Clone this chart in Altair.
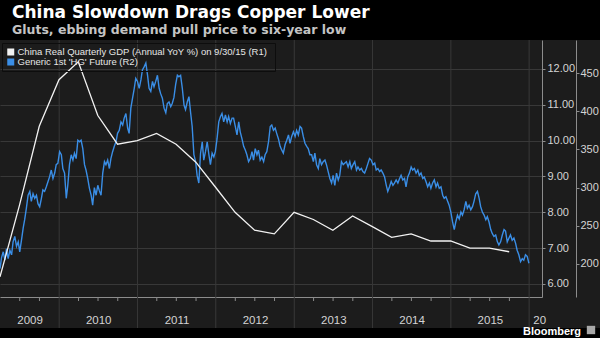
import altair as alt
import pandas as pd

TITLE = "China Slowdown Drags Copper Lower"
SUBTITLE = "Gluts, ebbing demand pull price to six-year low"
GDP_NAME = "China Real Quarterly GDP (Annual YoY %)  on 9/30/15 (R1)"
HG_NAME = "Generic 1st 'HG' Future (R2)"
SOURCE = "Bloomberg"

# China real GDP, YoY %, quarter ends (R1)
gdp_dates = ["2009-03-31", "2009-06-30", "2009-09-30", "2009-12-31",
             "2010-03-31", "2010-06-30", "2010-09-30", "2010-12-31",
             "2011-03-31", "2011-06-30", "2011-09-30", "2011-12-31",
             "2012-03-31", "2012-06-30", "2012-09-30", "2012-12-31",
             "2013-03-31", "2013-06-30", "2013-09-30", "2013-12-31",
             "2014-03-31", "2014-06-30", "2014-09-30", "2014-12-31",
             "2015-03-31", "2015-06-30", "2015-09-30"]
gdp_values = [6.2, 8.2, 10.4, 11.7, 12.2, 10.7, 9.9, 10.0,
              10.2, 9.9, 9.4, 8.7, 8.0, 7.5, 7.4, 8.0,
              7.8, 7.5, 7.9, 7.6, 7.3, 7.4, 7.2, 7.2,
              7.0, 7.0, 6.9]

# Generic 1st HG copper future, US cents/lb (R2), evenly sampled from first to last date
hg_first_date = "2009-03-31"
hg_last_date = "2015-12-31"
hg_seg1 = [194, 208, 216, 205, 220, 207, 218, 212, 229, 236, 223, 229, 216, 231, 247, 258,
           273, 290, 295, 282, 292, 286, 290, 279, 275, 286, 297, 295, 301, 308, 314, 323,
           312, 319, 330, 332, 347, 343, 325, 319, 286, 303, 330, 343, 336, 345, 338]
hg_seg2 = [362, 360, 362, 351, 330, 323, 312, 299, 290, 277, 300, 290, 303, 296, 290, 319,
           334, 330, 336, 325, 338, 347, 354, 360, 371, 375, 386, 382, 391, 397, 378, 371,
           404, 417, 430, 443, 439, 430, 441, 454, 458, 463, 447, 430, 426, 439, 432]
hg_seg3 = [439, 447, 430, 423, 417, 404, 398, 410, 412, 406, 410, 418, 435, 447, 445, 447,
           430, 408, 402, 412, 419, 400, 380, 343, 334, 316, 306, 345, 360, 336, 347, 360,
           343, 330, 345, 340, 347, 364, 386, 393, 397, 386, 395, 386, 393, 384, 391]
hg_seg4 = [391, 380, 369, 386, 373, 364, 354, 349, 343, 334, 338, 347, 336, 351, 343, 349,
           336, 340, 334, 343, 347, 360, 380, 382, 375, 378, 371, 364, 354, 349, 345, 356,
           362, 369, 358, 367, 373, 367, 375, 369, 380, 378, 367, 358, 354, 351, 343]
hg_seg5 = [343, 334, 345, 330, 325, 338, 330, 334, 336, 330, 321, 312, 306, 316, 303, 319,
           310, 316, 334, 330, 332, 334, 327, 334, 325, 330, 334, 323, 327, 323, 325, 321,
           319, 325, 332, 338, 336, 330, 332, 323, 325, 321, 323, 319, 314, 303, 295]
hg_seg6 = [301, 308, 303, 306, 310, 306, 312, 316, 310, 312, 301, 314, 319, 327, 323, 325,
           319, 323, 316, 319, 312, 314, 308, 301, 306, 299, 306, 310, 301, 306, 299, 301,
           290, 286, 288, 282, 277, 268, 255, 245, 255, 264, 259, 268, 264, 271]
hg_seg7 = [282, 273, 277, 271, 275, 282, 292, 295, 286, 275, 268, 264, 258, 262, 255, 245,
           240, 236, 238, 229, 225, 229, 238, 245, 243, 229, 234, 238, 231, 234, 227, 218,
           212, 203, 207, 205, 212, 210, 201]

year_starts = ["2010-01-01", "2011-01-01", "2012-01-01", "2013-01-01",
               "2014-01-01", "2015-01-01", "2016-01-01"]
year_label_dates = ["2009-08-16", "2010-07-02", "2011-07-02", "2012-07-02",
                    "2013-07-02", "2014-07-02", "2015-07-02", "2016-02-17"]
quarter_starts = ["2009-07-01", "2009-10-01", "2010-04-01", "2010-07-01", "2010-10-01",
                  "2011-04-01", "2011-07-01", "2011-10-01", "2012-04-01", "2012-07-01",
                  "2012-10-01", "2013-04-01", "2013-07-01", "2013-10-01", "2014-04-01",
                  "2014-07-01", "2014-10-01", "2015-04-01", "2015-07-01", "2015-10-01"]
r1_ticks = [6, 7, 8, 9, 10, 11, 12]
r2_ticks = [200, 250, 300, 350, 400, 450]
x_domain = ["2009-03-31", "2016-03-01"]
r1_domain = [5.637, 12.809]
r2_domain = [156.8, 493.2]

BG = "#000000"
PANEL = "#1c1c1c"
GRID = "#383838"
AXIS = "#8c8c8c"
TXT = "#d4d4d4"
WHITE = "#f2f2f2"
BLUE = "#3a8ee6"
FONT = "Liberation Sans"
TFONT = "DejaVu Sans"


def dt(s):
    y, m, d = (int(p) for p in s.split("-"))
    return alt.DateTime(year=y, month=m, date=d, utc=True)


hg_values = hg_seg1 + hg_seg2 + hg_seg3 + hg_seg4 + hg_seg5 + hg_seg6 + hg_seg7
hg_dates = pd.date_range(hg_first_date, hg_last_date, periods=len(hg_values)).strftime("%Y-%m-%d")

gdp_df = pd.DataFrame({"date": gdp_dates, "value": gdp_values, "series": GDP_NAME})
hg_df = pd.DataFrame({"date": list(hg_dates), "value": hg_values, "series": HG_NAME})
years_df = pd.DataFrame({"date": year_starts})
quarters_df = pd.DataFrame({"date": quarter_starts})

x_scale = alt.Scale(type="utc", domain=[dt(s) for s in x_domain], nice=False)
x_axis = alt.Axis(
    values=[dt(s) for s in year_label_dates],
    labelExpr="utcyear(datum.value) == 2016 ? '20' : '' + utcyear(datum.value)",
    ticks=False, grid=False, domain=True, domainColor=AXIS, domainWidth=1,
    labelColor=TXT, labelFont=FONT, labelFontSize=11.5, labelPadding=17,
    labelAlign="center", labelOverlap=False, labelFlush=False, labelBound=False,
    title=None,
)


def X():
    return alt.X("date:T", scale=x_scale, axis=x_axis)


color = alt.Color(
    "series:N",
    scale=alt.Scale(domain=[GDP_NAME, HG_NAME], range=[WHITE, BLUE]),
    legend=alt.Legend(
        title=None, orient="none", legendX=2, legendY=3, padding=4, rowPadding=0,
        clipHeight=10, symbolType="square", symbolSize=9, symbolStrokeWidth=4,
        labelFont=FONT, labelFontSize=9.5, labelColor="#e6e6e6", labelLimit=400,
        labelOffset=2, strokeColor="#0d0d0d", cornerRadius=0,
    ),
)

one_row = pd.DataFrame({"panel": [1]})
top_strip = alt.Chart(one_row).mark_rect(color=BG).encode(
    x=alt.value(0), x2=alt.value(600), y=alt.value(-40), y2=alt.value(0)
)
bottom_strip = alt.Chart(one_row).mark_rect(color=BG).encode(
    x=alt.value(0), x2=alt.value(600), y=alt.value(288), y2=alt.value(298)
)

year_rules = alt.Chart(years_df).mark_rule(color=GRID, strokeWidth=1).encode(
    x=X(), y=alt.value(0), y2=alt.value(288)
)

quarter_ticks = alt.Chart(quarters_df).mark_rule(color=AXIS, strokeWidth=1).encode(
    x=X(), y=alt.value(257), y2=alt.value(261)
)

hg_line = alt.Chart(hg_df).mark_line(strokeWidth=1.4, interpolate="linear").encode(
    x=X(),
    y=alt.Y("value:Q", scale=alt.Scale(domain=r2_domain, nice=False, zero=False),
            axis=alt.Axis(orient="right", offset=34, values=r2_ticks, format="d", grid=False,
                          domainColor=AXIS, tickColor=AXIS, tickSize=3, labelPadding=1,
                          labelColor=TXT, labelFont=FONT, labelFontSize=11,
                          title=None)),
    color=color,
)

gdp_line = alt.Chart(gdp_df).mark_line(strokeWidth=1.3).encode(
    x=X(),
    y=alt.Y("value:Q", scale=alt.Scale(domain=r1_domain, nice=False, zero=False),
            axis=alt.Axis(orient="right", offset=0, values=r1_ticks, format=".2f", grid=True,
                          gridColor=GRID, gridWidth=1,
                          domainColor=AXIS, tickColor=AXIS, tickSize=3, labelPadding=2,
                          labelColor=TXT, labelFont=FONT, labelFontSize=11,
                          title=None)),
    color=color,
)

title_mark = alt.Chart(pd.DataFrame({"t": [TITLE]})).mark_text(
    align="left", baseline="alphabetic", font=TFONT, fontWeight="bold",
    fontSize=17, color="#ffffff"
).encode(text="t:N", x=alt.value(12), y=alt.value(-22))

subtitle_mark = alt.Chart(pd.DataFrame({"t": [SUBTITLE]})).mark_text(
    align="left", baseline="alphabetic", font=TFONT, fontWeight="bold",
    fontSize=12.5, color="#c4c4c4"
).encode(text="t:N", x=alt.value(12), y=alt.value(-6))

logo = alt.Chart(pd.DataFrame({"t": [SOURCE]})).mark_text(
    align="right", baseline="alphabetic", font=FONT, fontWeight="bold",
    fontSize=11, color="#ffffff"
).encode(text="t:N", x=alt.value(581), y=alt.value(295))

logo_icon = alt.Chart(one_row).mark_square(size=70, color="#a8a8a8", opacity=1).encode(
    x=alt.value(591), y=alt.value(290)
)

chart = alt.layer(
    top_strip, bottom_strip, year_rules, quarter_ticks, hg_line, gdp_line,
    title_mark, subtitle_mark, logo, logo_icon
).resolve_scale(y="independent").properties(
    width=542,
    height=257,
    padding={"left": 0, "top": 40, "right": 58, "bottom": 41},
    autosize=alt.AutoSizeParams(type="none"),
    background=PANEL,
).configure_view(stroke=None)

chart.save("out.html", embed_options={"renderer": "svg", "actions": False})
